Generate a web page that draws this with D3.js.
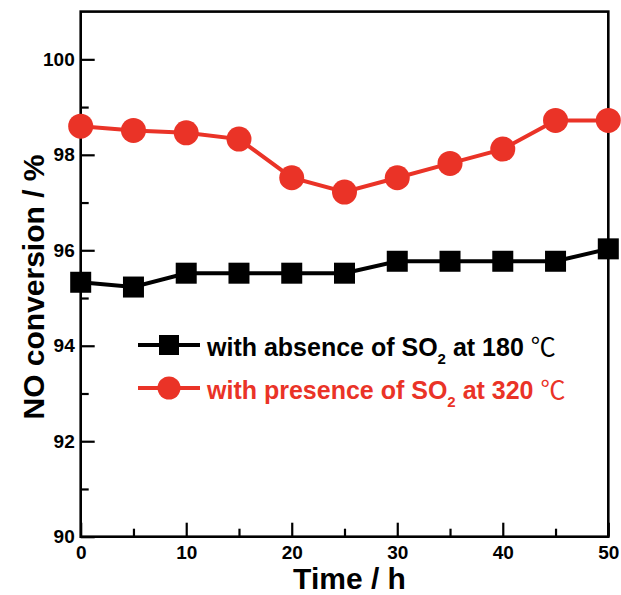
<!DOCTYPE html>
<html>
<head>
<meta charset="utf-8">
<script src="https://cdn.jsdelivr.net/npm/d3@7"></script>
<style>
  body { margin: 0; background: #fff; }
  svg { display: block; }
  .tick text { font-family: "Liberation Sans", Arial, sans-serif; font-weight: bold; font-size: 19px; }
</style>
</head>
<body>
<svg id="chart" width="621" height="595"></svg>
<script>
// time on stream (h)
var hours = [0, 5, 10, 15, 20, 25, 30, 35, 40, 45, 50];
// NO conversion (%)
var absence180 = [95.33, 95.23, 95.52, 95.52, 95.52, 95.52, 95.77, 95.77, 95.77, 95.77, 96.03];
var presence320 = [98.6, 98.51, 98.46, 98.33, 97.52, 97.22, 97.52, 97.82, 98.12, 98.72, 98.72];

var xTicks = [0, 10, 20, 30, 40, 50];
var xMinor = [5, 15, 25, 35, 45];
var yTicks = [90, 92, 94, 96, 98, 100];
var yMinor = [91, 93, 95, 97, 99];

var seriesNames = ["with absence of SO", "with presence of SO"];
var seriesTemps = [" at 180 ", " at 320 "];

var width = 621, height = 595;
var margin = {top: 11.6, right: 12.7, bottom: 58.3, left: 80.7};
var red = "#ea3327";

var svg = d3.select("#chart");

var x = d3.scaleLinear()
    .domain([0, 50])
    .range([margin.left, width - margin.right]);

var y = d3.scaleLinear()
    .domain([90, 101])
    .range([height - margin.bottom, margin.top]);

// major + minor ticks, pointing inwards
svg.append("g")
    .attr("transform", "translate(0," + y(90) + ")")
    .call(d3.axisBottom(x).tickValues(xTicks).tickSizeInner(-14).tickSizeOuter(0).tickPadding(9))
    .call(function(g) { g.select(".domain").remove(); });

svg.append("g")
    .attr("transform", "translate(0," + y(90) + ")")
    .call(d3.axisBottom(x).tickValues(xMinor).tickSizeInner(-8).tickSizeOuter(0).tickFormat(""))
    .call(function(g) { g.select(".domain").remove(); });

svg.append("g")
    .attr("transform", "translate(" + x(0) + ",0)")
    .call(d3.axisLeft(y).tickValues(yTicks).tickSizeInner(-14).tickSizeOuter(0).tickPadding(6))
    .call(function(g) { g.select(".domain").remove(); });

svg.append("g")
    .attr("transform", "translate(" + x(0) + ",0)")
    .call(d3.axisLeft(y).tickValues(yMinor).tickSizeInner(-8).tickSizeOuter(0).tickFormat(""))
    .call(function(g) { g.select(".domain").remove(); });

svg.selectAll(".tick line").attr("stroke-width", 2.2);
svg.selectAll(".tick text").attr("fill", "#000");

// frame
svg.append("rect")
    .attr("x", x(0))
    .attr("y", y(101))
    .attr("width", x(50) - x(0))
    .attr("height", y(90) - y(101))
    .attr("fill", "none")
    .attr("stroke", "#000")
    .attr("stroke-width", 2.6);

var line = d3.line()
    .x(function(d) { return x(d[0]); })
    .y(function(d) { return y(d[1]); });

var blackData = hours.map(function(h, i) { return [h, absence180[i]]; });
var redData = hours.map(function(h, i) { return [h, presence320[i]]; });

svg.append("path")
    .datum(blackData)
    .attr("d", line)
    .attr("fill", "none")
    .attr("stroke", "#000")
    .attr("stroke-width", 4);

svg.append("g")
    .selectAll("rect")
    .data(blackData)
    .enter()
    .append("rect")
    .attr("x", function(d) { return x(d[0]) - 10.5; })
    .attr("y", function(d) { return y(d[1]) - 10.5; })
    .attr("width", 21)
    .attr("height", 21)
    .attr("fill", "#000");

svg.append("path")
    .datum(redData)
    .attr("d", line)
    .attr("fill", "none")
    .attr("stroke", red)
    .attr("stroke-width", 4);

svg.append("g")
    .selectAll("circle")
    .data(redData)
    .enter()
    .append("circle")
    .attr("cx", function(d) { return x(d[0]); })
    .attr("cy", function(d) { return y(d[1]); })
    .attr("r", 12.5)
    .attr("fill", red);

// legend
var legend = [
    {name: seriesNames[0], temp: seriesTemps[0], color: "#000", shape: "square", ly: 345},
    {name: seriesNames[1], temp: seriesTemps[1], color: red, shape: "circle", ly: 388}
];

legend.forEach(function(d) {
    var g = svg.append("g");
    g.append("line")
        .attr("x1", 138).attr("x2", 200)
        .attr("y1", d.ly).attr("y2", d.ly)
        .attr("stroke", d.color)
        .attr("stroke-width", 4);
    if (d.shape === "square") {
        g.append("rect")
            .attr("x", 159).attr("y", d.ly - 10)
            .attr("width", 20).attr("height", 20)
            .attr("fill", d.color);
    } else {
        g.append("circle")
            .attr("cx", 169).attr("cy", d.ly)
            .attr("r", 11.5)
            .attr("fill", d.color);
    }
    var t = g.append("text")
        .attr("x", 207)
        .attr("y", d.ly + 11)
        .attr("fill", d.color)
        .style("font-family", "'Liberation Sans', Arial, sans-serif")
        .style("font-weight", "bold")
        .style("font-size", "25px");
    t.append("tspan").text(d.name);
    t.append("tspan").attr("dy", 8).style("font-size", "15px").text("2");
    t.append("tspan").attr("dy", -8).text(d.temp);
    t.append("tspan")
        .style("font-family", "'Noto Sans CJK SC', sans-serif")
        .style("font-weight", "normal")
        .text("\u2103");
});

// axis titles
svg.append("text")
    .attr("x", (x(0) + x(50)) / 2 + 5)
    .attr("y", 589)
    .attr("text-anchor", "middle")
    .style("font-family", "'Liberation Sans', Arial, sans-serif")
    .style("font-weight", "bold")
    .style("font-size", "30px")
    .text("Time / h");

svg.append("text")
    .attr("transform", "translate(44," + 287 + ") rotate(-90)")
    .attr("text-anchor", "middle")
    .style("font-family", "'Liberation Sans', Arial, sans-serif")
    .style("font-weight", "bold")
    .style("font-size", "30px")
    .text("NO conversion / %");
</script>
</body>
</html>
